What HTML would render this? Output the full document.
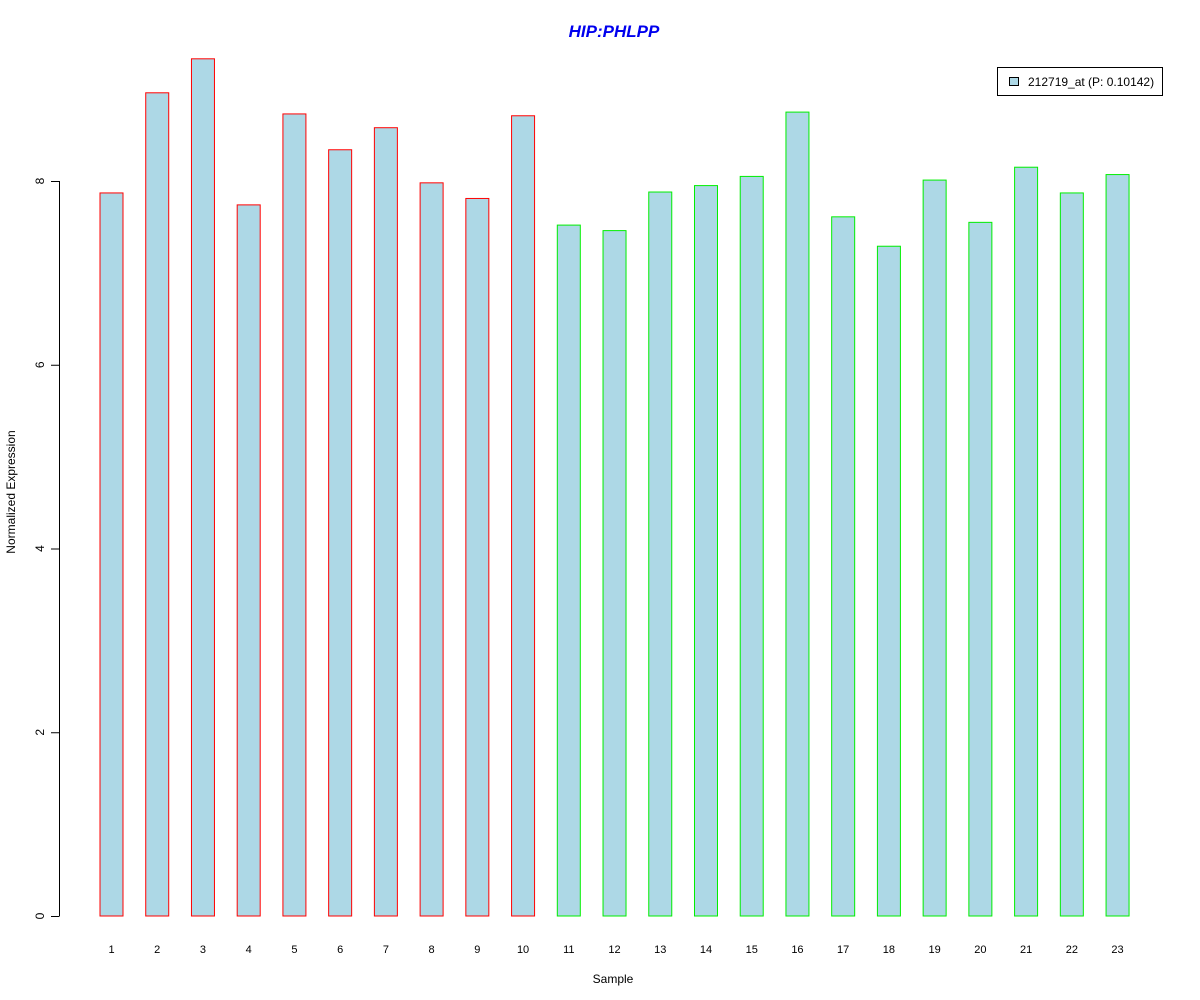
<!DOCTYPE html>
<html><head><meta charset="utf-8"><style>body{margin:0;background:#fff}svg{display:block;font-family:"Liberation Sans",Arial,sans-serif}</style></head>
<body>
<svg id="chart" width="1200" height="1000" xmlns="http://www.w3.org/2000/svg">
<text x="614" y="37" text-anchor="middle" font-size="17" font-weight="bold" font-style="italic" fill="#0000ee">HIP:PHLPP</text>
<text x="613" y="983" text-anchor="middle" font-size="12">Sample</text>
<text transform="translate(15,492) rotate(-90)" text-anchor="middle" font-size="12">Normalized Expression</text>
<g id="yaxis"></g>
<g id="bars"></g>
<g id="xlabels"></g>
<g>
<rect x="997.5" y="67.5" width="165" height="28" fill="#fff" stroke="#000"/>
<rect x="1009.5" y="77.5" width="9" height="8" fill="#add8e6" stroke="#000"/>
<text x="1028" y="86" font-size="12">212719_at (P: 0.10142)</text>
</g>
</svg>
<script>
const categories=["1","2","3","4","5","6","7","8","9","10","11","12","13","14","15","16","17","18","19","20","21","22","23"];
const values=[7.87,8.96,9.33,7.74,8.73,8.34,8.58,7.98,7.81,8.71,7.52,7.46,7.88,7.95,8.05,8.75,7.61,7.29,8.01,7.55,8.15,7.87,8.07];
const groups=["a","a","a","a","a","a","a","a","a","a","b","b","b","b","b","b","b","b","b","b","b","b","b"];
const yTicks=[0,2,4,6,8];
const NS="http://www.w3.org/2000/svg";
const y=v=>916-v*91.875;
const x=i=>111.5+i*45.73;
function mk(t,a,p){const e=document.createElementNS(NS,t);for(const k in a)e.setAttribute(k,a[k]);p.appendChild(e);return e;}
const ya=document.getElementById('yaxis');
mk('line',{x1:59.5,x2:59.5,y1:y(0),y2:y(8),stroke:'#000'},ya);
yTicks.forEach(t=>{mk('line',{x1:51,x2:59.5,y1:y(t)+.5,y2:y(t)+.5,stroke:'#000'},ya);
const tx=mk('text',{transform:`translate(44,${y(t)}) rotate(-90)`,'text-anchor':'middle','font-size':12},ya);


tx.textContent=t;});
const bg=document.getElementById('bars'),xl=document.getElementById('xlabels');
values.forEach((v,i)=>{const r=mk('rect',{x:x(i)-11.5,y:y(v),width:23,height:y(0)-y(v),fill:'#add8e6',stroke:groups[i]==='a'?'#ff0000':'#00ee00'},bg);


const t=mk('text',{x:x(i),y:953,'text-anchor':'middle','font-size':11},xl);


t.textContent=categories[i];});
</script>
</body></html>
